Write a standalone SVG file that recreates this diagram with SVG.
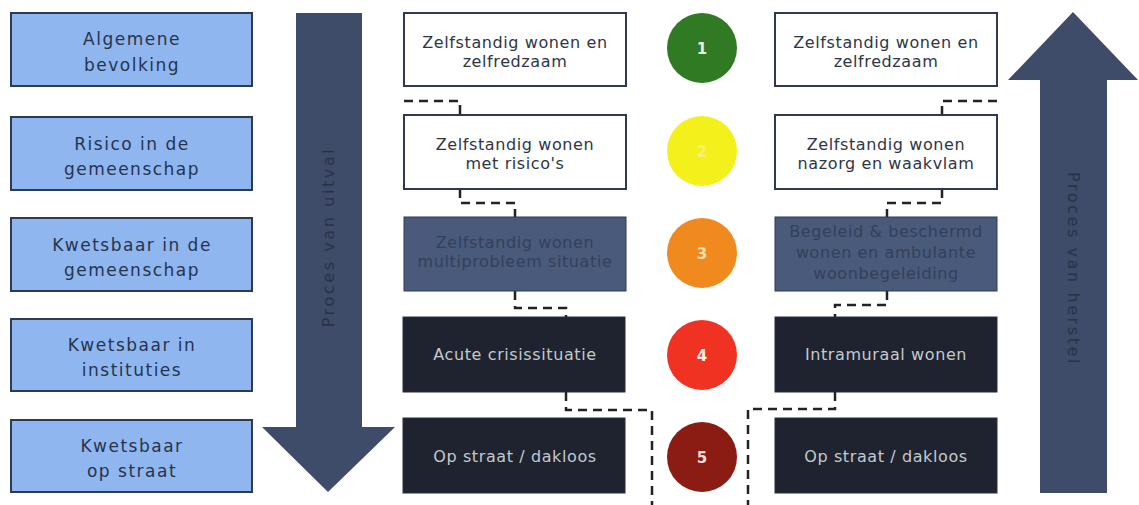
<svg xmlns="http://www.w3.org/2000/svg" width="1139" height="505" viewBox="0 0 1139 505">
<style>
.lbl{fill:#8fb6ef;stroke:#2c3a55;stroke-width:2}
.lt{font-family:"DejaVu Sans",sans-serif;font-size:17px;letter-spacing:1.5px;fill:#26344e;text-anchor:middle}
.wb{fill:#ffffff;stroke:#2f3a52;stroke-width:2}
.mb{fill:#4a5a7b;stroke:#2f3a52;stroke-width:1}
.db{fill:#1f2330;stroke:#2a2f3c;stroke-width:1}
.t{font-family:"DejaVu Sans",sans-serif;font-size:16px;letter-spacing:0.6px;text-anchor:middle}
.tw{fill:#2e3546}
.tm{fill:#34405b}
.td{fill:#c2cacd}
.arr{fill:#3e4b69}
.at{font-family:"DejaVu Sans",sans-serif;font-size:16px;letter-spacing:2.6px;fill:#2a3346;text-anchor:middle}
.num{font-family:"DejaVu Sans",sans-serif;font-size:15px;font-weight:bold;text-anchor:middle}
.dash{fill:none;stroke:#222;stroke-width:2.5;stroke-dasharray:9 6}
</style>

<g id="arrow-uitval">
<polygon class="arr" points="296,13 362,13 362,427 395,427 328,492 262,427 296,427"/>
<text class="at" transform="translate(334,237) rotate(-90)">Proces van uitval</text>
</g>
<g id="arrow-herstel">
<polygon class="arr" points="1073,12 1138,80 1107,80 1107,493 1040,493 1040,80 1008,80"/>
<text class="at" transform="translate(1068,269) rotate(90)">Proces van herstel</text>
</g>

<g id="connectors">
<path class="dash" d="M404,101 H460 V115"/>
<path class="dash" d="M460,189 V203 H515 V217"/>
<path class="dash" d="M515,291 V308 H566 V317"/>
<path class="dash" d="M566,392 V410 H652 V505"/>
<path class="dash" d="M997,101 H942 V115"/>
<path class="dash" d="M942,189 V203 H887 V217"/>
<path class="dash" d="M887,291 V305 H835 V317"/>
<path class="dash" d="M835,392 V409 H748 V505"/>
</g>

<g id="lvl1-label"><rect class="lbl" x="11" y="13" width="241" height="73"/>
<text class="lt" x="132" y="45">Algemene</text><text class="lt" x="132" y="71">bevolking</text></g>
<g id="lvl2-label"><rect class="lbl" x="11" y="117" width="241" height="73"/>
<text class="lt" x="132" y="150">Risico in de</text><text class="lt" x="132" y="175">gemeenschap</text></g>
<g id="lvl3-label"><rect class="lbl" x="11" y="218" width="241" height="73"/>
<text class="lt" x="132" y="251">Kwetsbaar in de</text><text class="lt" x="132" y="276">gemeenschap</text></g>
<g id="lvl4-label"><rect class="lbl" x="11" y="319" width="241" height="72"/>
<text class="lt" x="132" y="351">Kwetsbaar in</text><text class="lt" x="132" y="376">instituties</text></g>
<g id="lvl5-label"><rect class="lbl" x="11" y="420" width="241" height="72"/>
<text class="lt" x="132" y="452">Kwetsbaar</text><text class="lt" x="132" y="477">op straat</text></g>

<g id="uitval-1"><rect class="wb" x="404" y="13" width="222" height="73"/>
<text class="t tw" x="515" y="48">Zelfstandig wonen en</text><text class="t tw" x="515" y="67">zelfredzaam</text></g>
<g id="uitval-2"><rect class="wb" x="404" y="115" width="222" height="74"/>
<text class="t tw" x="515" y="150">Zelfstandig wonen</text><text class="t tw" x="515" y="169">met risico's</text></g>
<g id="uitval-3"><rect class="mb" x="404" y="217" width="222" height="74"/>
<text class="t tm" x="515" y="248">Zelfstandig wonen</text><text class="t tm" x="515" y="267">multiprobleem situatie</text></g>
<g id="uitval-4"><rect class="db" x="403" y="317" width="222" height="75"/>
<text class="t td" x="515" y="360">Acute crisissituatie</text></g>
<g id="uitval-5"><rect class="db" x="403" y="418" width="222" height="75"/>
<text class="t td" x="515" y="462">Op straat / dakloos</text></g>

<g id="fase-1"><circle cx="702" cy="48" r="35" fill="#2f7a22"/><text class="num" x="702" y="54" fill="#e8f0e0">1</text></g>
<g id="fase-2"><circle cx="702" cy="151" r="35" fill="#f4f01c"/><text class="num" x="702" y="157" fill="#f8f070">2</text></g>
<g id="fase-3"><circle cx="702" cy="253" r="35" fill="#f08a1f"/><text class="num" x="702" y="259" fill="#fde0b0">3</text></g>
<g id="fase-4"><circle cx="702" cy="355" r="35" fill="#f03222"/><text class="num" x="702" y="361" fill="#fff0ea">4</text></g>
<g id="fase-5"><circle cx="702" cy="457" r="35" fill="#8a1c14"/><text class="num" x="702" y="463" fill="#f5dcd8">5</text></g>

<g id="herstel-1"><rect class="wb" x="775" y="13" width="222" height="73"/>
<text class="t tw" x="886" y="48">Zelfstandig wonen en</text><text class="t tw" x="886" y="67">zelfredzaam</text></g>
<g id="herstel-2"><rect class="wb" x="775" y="115" width="222" height="74"/>
<text class="t tw" x="886" y="150">Zelfstandig wonen</text><text class="t tw" x="886" y="169">nazorg en waakvlam</text></g>
<g id="herstel-3"><rect class="mb" x="775" y="217" width="222" height="74"/>
<text class="t tm" x="886" y="237">Begeleid &amp; beschermd</text><text class="t tm" x="886" y="258">wonen en ambulante</text><text class="t tm" x="886" y="279">woonbegeleiding</text></g>
<g id="herstel-4"><rect class="db" x="775" y="317" width="222" height="75"/>
<text class="t td" x="886" y="360">Intramuraal wonen</text></g>
<g id="herstel-5"><rect class="db" x="775" y="418" width="222" height="75"/>
<text class="t td" x="886" y="462">Op straat / dakloos</text></g>
</svg>
